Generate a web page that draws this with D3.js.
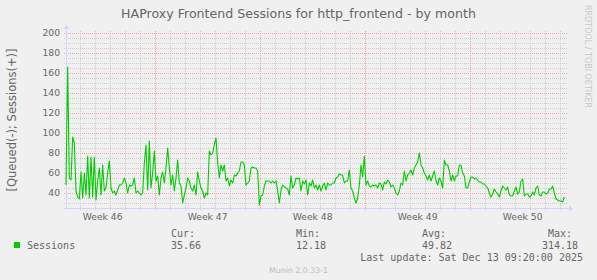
<!DOCTYPE html>
<html><head><meta charset="utf-8">
<script src="https://cdn.jsdelivr.net/npm/d3@7"></script>
<style>
html,body{margin:0;padding:0;background:#F0F0F0;}
svg{display:block;}
</style></head>
<body>
<svg id="chart" width="597" height="280"></svg>
<script>
// ---- data ----
const titleText = "HAProxy Frontend Sessions for http_frontend - by month";
const yAxisTitle = "[Queued(-); Sessions(+)]";
const seriesName = "Sessions";
const rangeStart = Date.UTC(2025, 10, 10, 1, 20);   // Nov 10 2025 01:20
const rangeEnd = Date.UTC(2025, 11, 13, 9, 20);     // Dec 13 2025 09:20
const stepMinutes = 160;
const sessions = [
  48,166,55,53,96,90,42,36,34,61,
  35,60,38,77,35,76,36,76,33,52,
  65,38,68,42,45,60,72,45,40,42,
  38,43,48,48,50,55,50,40,48,47,
  48,55,40,42,40,38,40,70,88,43,
  92,45,60,82,52,57,38,55,61,50,
  65,85,65,48,58,42,55,73,50,47,
  30,38,45,55,52,45,42,48,38,61,
  52,45,42,35,40,38,82,78,80,88,
  95,70,55,68,62,68,52,55,47,53,
  50,58,57,60,62,71,71,68,48,50,
  52,65,66,65,65,62,28,37,38,47,
  52,52,52,50,52,50,52,42,30,43,
  48,46,45,44,38,57,45,48,55,54,
  55,42,52,49,53,38,50,47,53,45,
  48,43,48,42,47,50,43,50,48,48,
  50,50,55,56,59,58,58,50,52,52,
  63,45,42,35,30,35,48,68,56,77,
  48,52,47,46,48,47,48,45,50,49,
  43,51,49,53,51,46,48,45,40,38,
  42,50,48,62,52,58,60,63,58,65,
  68,71,80,68,65,60,57,53,58,52,
  57,62,52,48,55,52,45,73,68,68,
  62,52,58,52,57,57,68,68,60,57,
  45,45,51,56,56,54,55,53,51,51,
  49,49,47,45,40,36,39,44,41,39,
  36,42,47,45,43,46,38,37,37,42,
  46,39,41,52,54,37,39,39,36,37,
  41,38,45,47,38,37,41,41,39,40,
  44,44,47,40,34,33,32,32,31,36
];
const weekStarts = [
  Date.UTC(2025,10,9), Date.UTC(2025,10,16), Date.UTC(2025,10,23),
  Date.UTC(2025,10,30), Date.UTC(2025,11,7)
];
const weekLabels = ["Week 46","Week 47","Week 48","Week 49","Week 50"];
const yDomain = [25, 200];
const yLabelTicks = [40,60,80,100,120,140,160,180,200];
const legendHeads = ["Cur:","Min:","Avg:","Max:"];
const legendValues = ["35.66","12.18","49.82","314.18"];
const lastUpdate = "Last update: Sat Dec 13 09:20:00 2025";
const footer = "Munin 2.0.33-1";
const watermark = "RRDTOOL / TOBI OETIKER";

// ---- layout ----
const L = 66, R = 566, T = 33, B = 208;
const svg = d3.select("#chart");
const FONT = "'DejaVu Sans', sans-serif";
const MONO = "'DejaVu Sans Mono', monospace";
const TXT = "#666666";

const x = d3.scaleUtc().domain([new Date(rangeStart), new Date(rangeEnd)]).range([L, R]);
const y = d3.scaleLinear().domain(yDomain).range([B, T]);
const px = v => Math.round(v) + 0.5;

svg.append("rect").attr("width",597).attr("height",280).attr("fill","#F0F0F0");

// minor horizontal grid (every 5)
const minorY = d3.range(30, 201, 5).filter(v => v % 20 !== 0);
svg.append("g").selectAll("line").data(minorY).join("line")
  .attr("x1", L-2).attr("x2", R+2)
  .attr("y1", d => px(y(d))).attr("y2", d => px(y(d)))
  .attr("stroke", "#CDCDCD").attr("stroke-dasharray","1,1");

// minor vertical grid (days)
const days = d3.utcDay.range(new Date(rangeStart), new Date(rangeEnd))
  .filter(d => d3.utcDay.count(d3.utcSunday.floor(d), d) !== 0 && d > new Date(rangeStart));
svg.append("g").selectAll("line").data(days).join("line")
  .attr("x1", d => px(x(d))).attr("x2", d => px(x(d)))
  .attr("y1", T-2).attr("y2", B+2)
  .attr("stroke", "#CDCDCD").attr("stroke-dasharray","1,1");

// major horizontal grid
svg.append("g").selectAll("line").data(yLabelTicks).join("line")
  .attr("x1", L-2).attr("x2", R+2)
  .attr("y1", d => px(y(d))).attr("y2", d => px(y(d)))
  .attr("stroke", "#EFA6A6").attr("stroke-dasharray","1,1");

// major vertical grid (weeks)
const majorX = weekStarts.filter(t => t > rangeStart && t < rangeEnd);
svg.append("g").selectAll("line").data(majorX).join("line")
  .attr("x1", d => px(x(new Date(d)))).attr("x2", d => px(x(new Date(d))))
  .attr("y1", T-2).attr("y2", B+2)
  .attr("stroke", "#EFA6A6").attr("stroke-dasharray","1,1");

// axes
const AX = "#CFD6F8";
svg.append("line").attr("x1", L-2).attr("x2", R+4).attr("y1", px(B)).attr("y2", px(B)).attr("stroke", AX);
svg.append("path").attr("d", `M${R+3},${B-2.5}L${R+7},${B+0.5}L${R+3},${B+3.5}Z`).attr("fill", AX);
svg.append("line").attr("x1", px(L)).attr("x2", px(L)).attr("y1", B+2).attr("y2", T-5).attr("stroke", AX);
svg.append("path").attr("d", `M${L-2.5},${T-4}L${L+0.5},${T-8}L${L+3.5},${T-4}Z`).attr("fill", AX);

// y tick labels
svg.append("g").selectAll("text").data(yLabelTicks).join("text")
  .attr("x", L-6).attr("y", d => y(d)).attr("dy","0.36em")
  .attr("text-anchor","end").attr("font-family",FONT).attr("font-size","9.2px")
  .attr("fill",TXT).text(d => d);

// week labels at mid-week
svg.append("g").selectAll("text").data(weekStarts).join("text")
  .attr("x", (d) => x(new Date(d + 3.5*864e5))).attr("y", 219.5)
  .attr("text-anchor","middle").attr("font-family",FONT).attr("font-size","9.2px")
  .attr("fill",TXT).text((d,i) => weekLabels[i]);

// data line
const pts = sessions.map((v,i) => ({t: new Date(rangeStart + i*stepMinutes*60000), v}));
svg.append("path").datum(pts)
  .attr("fill","none").attr("stroke","#00CC00").attr("stroke-width",1.1)
  .attr("stroke-linejoin","round")
  .attr("d", d3.line().x(d => x(d.t)).y(d => y(d.v)));

// title
svg.append("text").attr("x", 298.5).attr("y", 18).attr("text-anchor","middle")
  .attr("font-family",FONT).attr("font-size","12.6px").attr("fill",TXT).text(titleText);

// y axis title
svg.append("text").attr("transform","translate(15.5,120) rotate(-90)")
  .attr("text-anchor","middle").attr("font-family",FONT).attr("font-size","11.5px")
  .attr("fill",TXT).text(yAxisTitle);

// watermark
svg.append("text").attr("transform","translate(585,5) rotate(90)")
  .attr("text-anchor","start").attr("font-family",FONT).attr("font-size","8px")
  .attr("fill","#C8C8C8").text(watermark);

// legend
const headX = [171, 296, 422, 548];
const valX = [171, 296, 422, 542];
svg.append("g").selectAll("text").data(legendHeads).join("text")
  .attr("x",(d,i)=>headX[i]).attr("y",236.5).attr("font-family",MONO).attr("font-size","10px")
  .attr("fill",TXT).text(d=>d);
svg.append("rect").attr("x",14).attr("y",242).attr("width",6).attr("height",6).attr("fill","#00CC00");
svg.append("text").attr("x",27).attr("y",248.5).attr("font-family",MONO).attr("font-size","10px")
  .attr("fill",TXT).text(seriesName);
svg.append("g").selectAll("text").data(legendValues).join("text")
  .attr("x",(d,i)=>valX[i]).attr("y",248.5).attr("font-family",MONO).attr("font-size","10px")
  .attr("fill",TXT).text(d=>d);
svg.append("text").attr("x",583).attr("y",261).attr("text-anchor","end")
  .attr("font-family",MONO).attr("font-size","10px").attr("fill",TXT)
  .text(lastUpdate);
svg.append("text").attr("x",298.5).attr("y",272.5).attr("text-anchor","middle")
  .attr("font-family",FONT).attr("font-size","7.8px").attr("fill","#BBBBBB").text(footer);
</script>
</body></html>
